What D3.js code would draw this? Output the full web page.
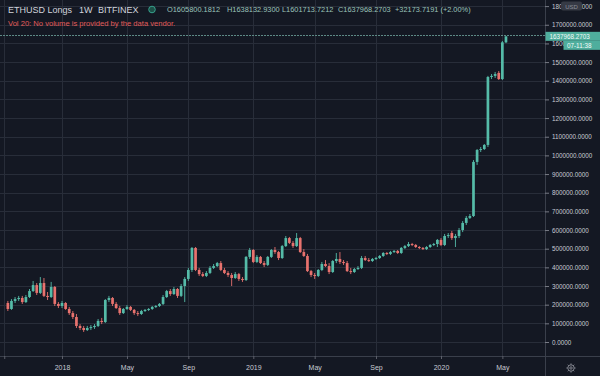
<!DOCTYPE html>
<html>
<head>
<meta charset="utf-8">
<script src="https://cdn.jsdelivr.net/npm/d3@7"></script>
<style>
  html, body { margin: 0; padding: 0; background: #141823; }
  svg { display: block; }
</style>
</head>
<body>
<div id="chart"></div>
<script>
// ETHUSD Longs, weekly bars (Bitfinex), values in thousands of USD
const firstWeek = Date.UTC(2017, 8, 18);
const afterLastWeek = Date.UTC(2020, 4, 12);

const opens = [
  209,177,220,230,236,214,241,273,305,263,
  316,247,241,295,204,193,209,177,155,134,
  86,75,64,75,80,86,113,107,225,236,
  204,182,155,177,188,172,155,150,166,172,
  177,188,193,204,241,273,257,284,247,300,
  338,386,504,386,364,354,370,397,407,423,
  386,370,359,343,364,338,332,456,493,429,
  456,423,413,456,493,482,450,514,557,531,
  514,557,482,461,380,359,354,386,418,407,
  375,434,445,429,423,380,375,391,397,450,
  439,434,445,450,461,477,472,482,488,477,
  504,514,525,520,509,504,498,509,520,525,
  547,520,568,584,557,568,600,638,665,675,
  965,1029,1034,1056,1420,1426,1442,1409,1605.8001812
];
const highs = [
  220,230,241,247,247,252,284,327,316,348,
  343,268,322,300,214,220,214,188,166,150,
  96,86,86,91,96,123,129,230,247,241,
  214,193,182,198,193,177,166,172,177,182,
  193,198,209,252,279,284,295,289,311,348,
  397,509,509,397,375,380,407,418,429,434,
  397,380,370,375,370,348,461,504,498,466,
  461,434,461,498,509,488,520,568,563,541,
  584,563,498,472,386,370,391,429,439,423,
  439,477,482,439,434,397,397,407,461,461,
  450,450,456,466,482,482,488,493,493,509,
  520,536,531,525,514,509,514,525,531,552,
  557,579,584,595,579,611,648,675,686,975,
  1034,1045,1061,1426,1436,1447,1452,1613,1638.13293
];
const lows = [
  166,172,209,220,204,209,236,268,252,257,
  241,225,236,193,182,182,172,145,123,75,
  64,54,59,64,70,80,96,102,214,193,
  177,145,150,172,166,145,139,145,161,166,
  172,182,188,198,236,247,252,236,241,214,
  327,375,380,354,348,348,364,391,402,380,
  364,348,300,338,327,322,327,445,423,423,
  418,402,407,450,472,439,445,509,525,504,
  509,477,456,375,348,338,348,380,402,364,
  370,423,418,413,375,364,370,386,391,434,
  429,429,439,445,456,466,466,477,472,472,
  498,509,514,504,498,493,493,504,514,509,
  514,514,557,547,509,557,589,627,659,670,
  949,1018,1029,1045,1409,1415,1404,1404,1601.7137212
];
const closes = [
  177,220,230,236,214,241,273,305,263,316,
  247,241,295,204,193,209,177,155,134,86,
  75,64,75,80,86,113,107,225,236,204,
  182,155,177,188,172,155,150,166,172,177,
  188,193,204,241,273,257,284,247,300,338,
  386,504,386,364,354,370,397,407,423,386,
  370,359,343,364,338,332,456,493,429,456,
  423,413,456,493,482,450,514,557,531,514,
  557,482,461,380,359,354,386,418,407,375,
  434,445,429,423,380,375,391,397,450,439,
  434,445,450,461,477,472,482,488,477,504,
  514,525,520,509,504,498,509,520,525,547,
  520,568,573,557,568,600,638,665,675,965,
  1029,1034,1056,1420,1426,1436,1409,1605.7945512,1637.9682703
];

const priceTicks = [0,100000,200000,300000,400000,500000,600000,700000,800000,900000,
  1000000,1100000,1200000,1300000,1400000,1500000,1600000,1700000,1800000];
const timeTickDates = [Date.UTC(2017,8,11), Date.UTC(2018,0,1), Date.UTC(2018,4,7), Date.UTC(2018,8,3),
  Date.UTC(2019,0,7), Date.UTC(2019,4,6), Date.UTC(2019,8,2), Date.UTC(2020,0,6), Date.UTC(2020,4,4)];
const timeTickLabels = ["", "2018", "May", "Sep", "2019", "May", "Sep", "2020", "May"];

const lastPrice = "1637968.2703";
const countdown = "07-11:38";
const legendValues = ["O1605800.1812", "H1638132.9300", "L1601713.7212", "C1637968.2703", "+32173.7191 (+2.00%)"];

const W = 600, H = 376;
const plotR = 545, plotB = 356;
const colors = { bg: "#141823", grid: "#282d39", up: "#55bba8", down: "#e8726e", text: "#c8cbd3" };
const font = "'Liberation Sans', Arial, sans-serif";

const weeks = d3.utcMonday.range(firstWeek, afterLastWeek);
const bars = weeks.map((d, i) => ({
  date: d, o: opens[i] * 1000, h: highs[i] * 1000, l: lows[i] * 1000, c: closes[i] * 1000
}));

const svg = d3.select("#chart").append("svg")
  .attr("width", W).attr("height", H)
  .style("font-family", font);

svg.append("rect").attr("width", W).attr("height", H).attr("fill", colors.bg);

const x = d3.scaleUtc().domain([Date.UTC(2018, 0, 1), Date.UTC(2020, 0, 6)]).range([62, 441]);
const y = d3.scaleLinear().domain([0, 1800000]).range([342, 6.1]);

svg.append("defs").append("clipPath").attr("id", "plot")
  .append("rect").attr("width", plotR).attr("height", plotB);

// grid
const grid = svg.append("g").attr("clip-path", "url(#plot)");
grid.selectAll(".hg").data(priceTicks).enter().append("line")
  .attr("x1", 0).attr("x2", plotR)
  .attr("y1", d => Math.round(y(d)) + 0.5).attr("y2", d => Math.round(y(d)) + 0.5)
  .attr("stroke", colors.grid);
grid.selectAll(".vg").data(timeTickDates).enter().append("line")
  .attr("y1", 0).attr("y2", plotB)
  .attr("x1", d => Math.round(x(d)) + 0.5).attr("x2", d => Math.round(x(d)) + 0.5)
  .attr("stroke", colors.grid);

// last price line
const lastY = y(closes[closes.length - 1] * 1000);
grid.append("line")
  .attr("x1", 0).attr("x2", plotR)
  .attr("y1", Math.round(lastY) - 0.5).attr("y2", Math.round(lastY) - 0.5)
  .attr("stroke", "#5d8a86").attr("stroke-width", 1).attr("stroke-dasharray", "2,1");

// candles
const bodyW = 2.7;
const candles = grid.selectAll(".candle").data(bars).enter().append("g");
candles.append("line")
  .attr("x1", d => x(d.date)).attr("x2", d => x(d.date))
  .attr("y1", d => y(d.h)).attr("y2", d => y(d.l))
  .attr("stroke", d => d.c >= d.o ? colors.up : colors.down).attr("stroke-width", 0.9);
candles.append("rect")
  .attr("x", d => x(d.date) - bodyW / 2).attr("width", bodyW)
  .attr("y", d => y(Math.max(d.o, d.c)))
  .attr("height", d => Math.max(1, Math.abs(y(d.o) - y(d.c))))
  .attr("fill", d => d.c >= d.o ? colors.up : colors.down);

// axes separators
svg.append("line").attr("x1", plotR + 0.5).attr("x2", plotR + 0.5).attr("y1", 0).attr("y2", H)
  .attr("stroke", "#3a3f4b");
svg.append("line").attr("x1", 0).attr("x2", W).attr("y1", plotB + 0.5).attr("y2", plotB + 0.5)
  .attr("stroke", "#3a3f4b");

// price axis
svg.append("g").attr("transform", `translate(${plotR},0)`)
  .call(d3.axisRight(y).tickValues(priceTicks).tickFormat(d => d.toFixed(4)).tickSize(4).tickPadding(3))
  .call(g => g.select(".domain").remove())
  .call(g => g.selectAll("line").attr("stroke", "#787b86"))
  .call(g => g.selectAll("text").attr("fill", colors.text).style("font-size", "6.3px").style("font-family", font));

// time axis
svg.append("g").attr("transform", `translate(0,${plotB})`)
  .call(d3.axisBottom(x).tickValues(timeTickDates).tickFormat((d, i) => timeTickLabels[i]).tickSize(3).tickPadding(6))
  .call(g => g.select(".domain").remove())
  .call(g => g.selectAll("line").attr("stroke", "#5d606b"))
  .call(g => g.selectAll("text").attr("fill", colors.text).style("font-size", "7px").style("font-family", font));

// USD badge (sits over the top price label, as in the terminal)
svg.append("rect").attr("x", 561).attr("y", 1.5).attr("width", 21).attr("height", 9).attr("rx", 2)
  .attr("fill", "#363a45");
svg.append("text").attr("x", 571.5).attr("y", 8.5).attr("text-anchor", "middle")
  .attr("fill", "#8c8f99").style("font-size", "6px").text("USD");

// last price labels
svg.append("rect").attr("x", plotR + 0.5).attr("y", lastY - 4.5).attr("width", W - plotR).attr("height", 9)
  .attr("fill", "#4fae9d");
svg.append("text").attr("x", 549.5).attr("y", lastY + 2.2).attr("fill", "#f2fbf9")
  .style("font-size", "6.3px").text(lastPrice);
svg.append("rect").attr("x", 563.5).attr("y", lastY + 4.5).attr("width", W - 563.5).attr("height", 9)
  .attr("fill", "#4fae9d");
svg.append("text").attr("x", 567).attr("y", lastY + 11.3).attr("fill", "#f2fbf9")
  .style("font-size", "6.3px").text(countdown);

// gear icon
const gear = svg.append("g").attr("transform", "translate(571,368)")
  .attr("stroke", "#8c8f99").attr("fill", "none").attr("stroke-width", 0.9);
gear.append("circle").attr("r", 3.2);
gear.append("circle").attr("r", 1.2);
d3.range(8).forEach(i => {
  const a = i * Math.PI / 4;
  gear.append("line").attr("x1", Math.cos(a) * 3.2).attr("y1", Math.sin(a) * 3.2)
    .attr("x2", Math.cos(a) * 4.6).attr("y2", Math.sin(a) * 4.6);
});

// header
const head = svg.append("g");
head.append("text").attr("x", 8).attr("y", 12.5).attr("fill", "#d1d4dc").style("font-size", "9px")
  .text("ETHUSD Longs");
head.append("text").attr("x", 79).attr("y", 12.5).attr("fill", "#d1d4dc").style("font-size", "9px")
  .text("1W");
head.append("text").attr("x", 98).attr("y", 12.5).attr("fill", "#d1d4dc").style("font-size", "9px")
  .text("BITFINEX");
head.append("circle").attr("cx", 152).attr("cy", 9.5).attr("r", 3.3)
  .attr("fill", "#1d4f47").attr("stroke", "#36a08c").attr("stroke-width", 1);
const legendX = [167, 227, 282, 338, 395];
legendValues.forEach((t, i) => {
  head.append("text").attr("x", legendX[i]).attr("y", 12.3).attr("fill", "#9cc5bb")
    .style("font-size", "7.4px").text(t);
});
head.append("text").attr("x", 8).attr("y", 25.5).attr("fill", "#e35d5b").style("font-size", "7.6px")
  .text("Vol 20: No volume is provided by the data vendor.");
</script>
</body>
</html>
